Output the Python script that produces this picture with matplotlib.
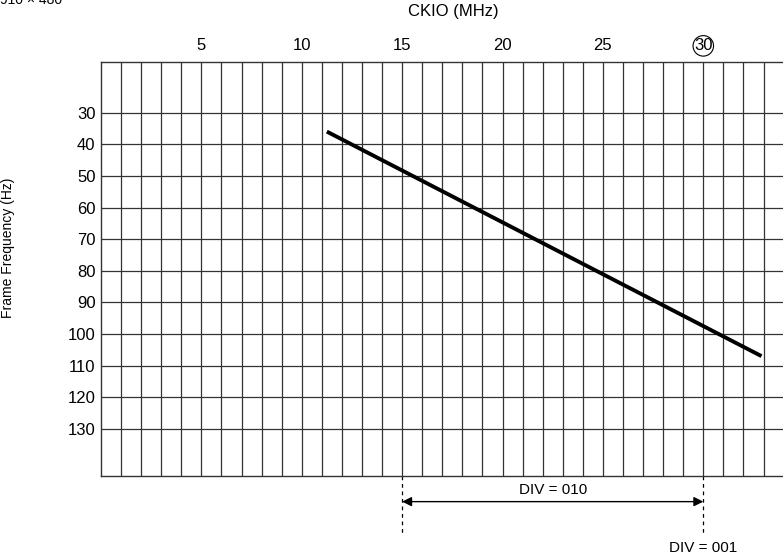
import matplotlib.pyplot as plt
from matplotlib.ticker import FixedLocator

plt.rcParams['font.family'] = ['Liberation Sans', 'DejaVu Sans']

# line data
ckio = [11.25, 32.9]
frame_freq = [36, 107]

x_labels = [5, 10, 15, 20, 25, 30]
y_labels = [30, 40, 50, 60, 70, 80, 90, 100, 110, 120, 130]
div_range = [15, 30]

fig = plt.figure(figsize=(7.83, 5.59), dpi=100)
ax = fig.add_axes([101 / 783, 1 - 475.7 / 559, 1 - 101 / 783, (475.7 - 61.7) / 559])

ax.plot(ckio, frame_freq, color='black', lw=2.8, solid_capstyle='butt', zorder=3)

ax.set_xlim(0, 33.97)
ax.set_ylim(144.8, 13.9)

ax.xaxis.set_major_locator(FixedLocator(x_labels))
ax.xaxis.set_minor_locator(FixedLocator(list(range(1, 34))))
ax.yaxis.set_major_locator(FixedLocator(y_labels))
ax.xaxis.tick_top()
ax.xaxis.set_label_position('top')
ax.tick_params(which='both', length=0)
ax.tick_params(axis='x', pad=6, labelsize=12)
ax.tick_params(axis='y', pad=4, labelsize=12)
ax.grid(which='both', axis='x', color='#333333', lw=0.9)
ax.grid(which='major', axis='y', color='#333333', lw=0.9)
for side in ['left', 'top', 'bottom']:
    ax.spines[side].set_color('#333333')
    ax.spines[side].set_linewidth(1.0)
ax.spines['right'].set_visible(False)

# circle around 30
for lbl in ax.get_xticklabels():
    if lbl.get_text() == '30':
        lbl.set_bbox(dict(boxstyle='circle,pad=0.06', fc='none', ec='black', lw=0.8))

ax.set_xlabel('CKIO (MHz)', fontsize=12)
ax.xaxis.set_label_coords((453 - 101) / 682, 1 + (61.7 - 16) / 414)
ax.set_ylabel('Frame Frequency (Hz)', fontsize=10)
ax.yaxis.set_label_coords((15 - 101) / 682, 0.55)

# DIV annotations below the chart
for xv in div_range:
    ax.plot([xv, xv], [144.8, 164], color='black', lw=0.9, ls=(0, (3, 3)), clip_on=False)
ax.annotate('', xy=(div_range[0], 153), xytext=(div_range[1], 153),
            arrowprops=dict(arrowstyle='<|-|>', color='black', lw=1.0,
                            mutation_scale=14, shrinkA=0, shrinkB=0),
            annotation_clip=False)
ax.text(22.5, 149.3, 'DIV = 010', ha='center', va='center', fontsize=11)
ax.text(30, 167.6, 'DIV = 001', ha='center', va='center', fontsize=11)

fig.text(0.0, 1.0, '910 × 480', ha='left', va='center', fontsize=10)

fig.savefig('out.png', dpi=100)
